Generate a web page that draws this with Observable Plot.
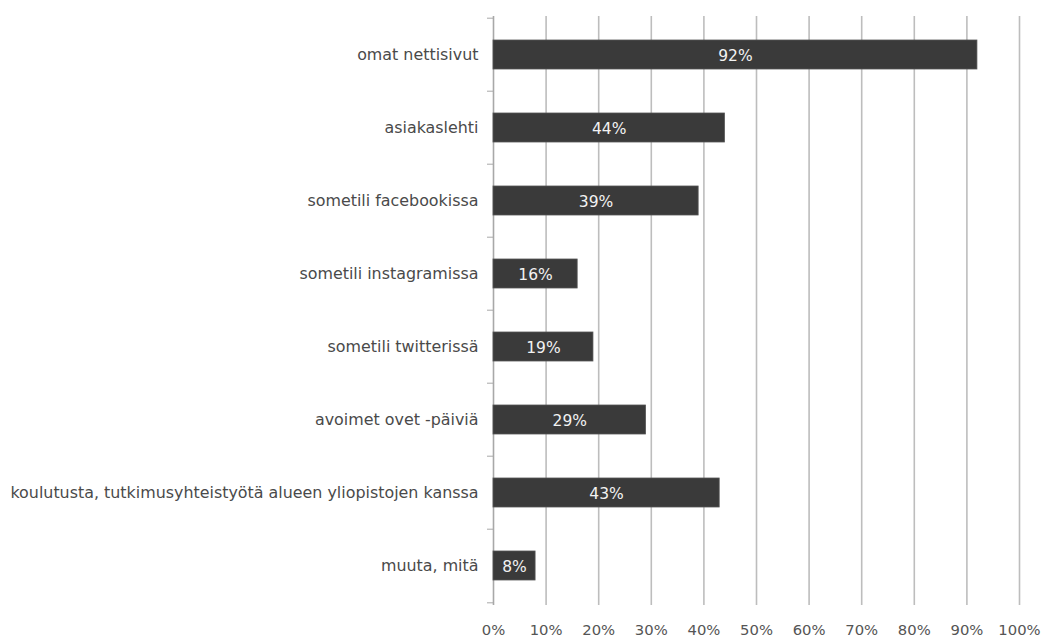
<!DOCTYPE html>
<html>
<head>
<meta charset="utf-8">
<script src="https://cdn.jsdelivr.net/npm/d3@7"></script>
<script src="https://cdn.jsdelivr.net/npm/@observablehq/plot@0.6"></script>
<style>
  html, body { margin: 0; padding: 0; background: #fff; }
  #chart { width: 1051px; height: 641px; }
</style>
</head>
<body>
<div id="chart"></div>
<script>
const categories = [
  "omat nettisivut",
  "asiakaslehti",
  "sometili facebookissa",
  "sometili instagramissa",
  "sometili twitterissä",
  "avoimet ovet -päiviä",
  "koulutusta, tutkimusyhteistyötä alueen yliopistojen kanssa",
  "muuta, mitä"
];
const values = [0.92, 0.44, 0.39, 0.16, 0.19, 0.29, 0.43, 0.08];
const xTicks = [0, 0.1, 0.2, 0.3, 0.4, 0.5, 0.6, 0.7, 0.8, 0.9, 1.0];

const data = categories.map((c, i) => ({category: c, value: values[i]}));

const W = 1051, H = 641;
const mTop = 16, mBottom = 36, mLeft = 493, mRight = 32;
const step = (H - mTop - mBottom) / categories.length;
const font = "'DejaVu Sans', sans-serif";

const chart = Plot.plot({
  width: W,
  height: H,
  marginTop: mTop,
  marginBottom: mBottom,
  marginLeft: mLeft,
  marginRight: mRight,
  style: {fontFamily: font, background: "#fff"},
  x: {domain: [0, 1], ticks: xTicks, tickFormat: d3.format(".0%")},
  y: {domain: categories, paddingInner: 0.6, paddingOuter: 0.3},
  marks: [
    Plot.gridX(xTicks.slice(1), {stroke: "#bdbdbd", strokeOpacity: 1, strokeWidth: 1.6}),
    Plot.ruleX([0], {stroke: "#a8a8a8", strokeWidth: 1.6}),
    Plot.axisX({ticks: xTicks, tickSize: 0, tickPadding: 19, tickFormat: d3.format(".0%"), label: null, fill: "#555", fontSize: 14.8, fontFamily: font}),
    Plot.axisY({tickSize: 0, tickPadding: 15, label: null, fill: "#4a4a4a", fontSize: 15.9, fontFamily: font}),
    Plot.axisY({tickSize: 6, text: null, dy: -step / 2, stroke: "#a8a8a8", label: null}),
    Plot.axisY(categories.slice(-1), {tickSize: 6, text: null, dy: step / 2, stroke: "#a8a8a8", label: null}),
    Plot.barX(data, {x: "value", y: "category", fill: "#3a3a3a", stroke: "#555", strokeWidth: 0.8}),
    Plot.text(data, {x: d => d.value / 2, y: "category", text: d => d3.format(".0%")(d.value), fill: "#f2f2f2", fontSize: 15.5, fontFamily: font, dy: 1})
  ]
});
document.getElementById("chart").appendChild(chart);
</script>
</body>
</html>
